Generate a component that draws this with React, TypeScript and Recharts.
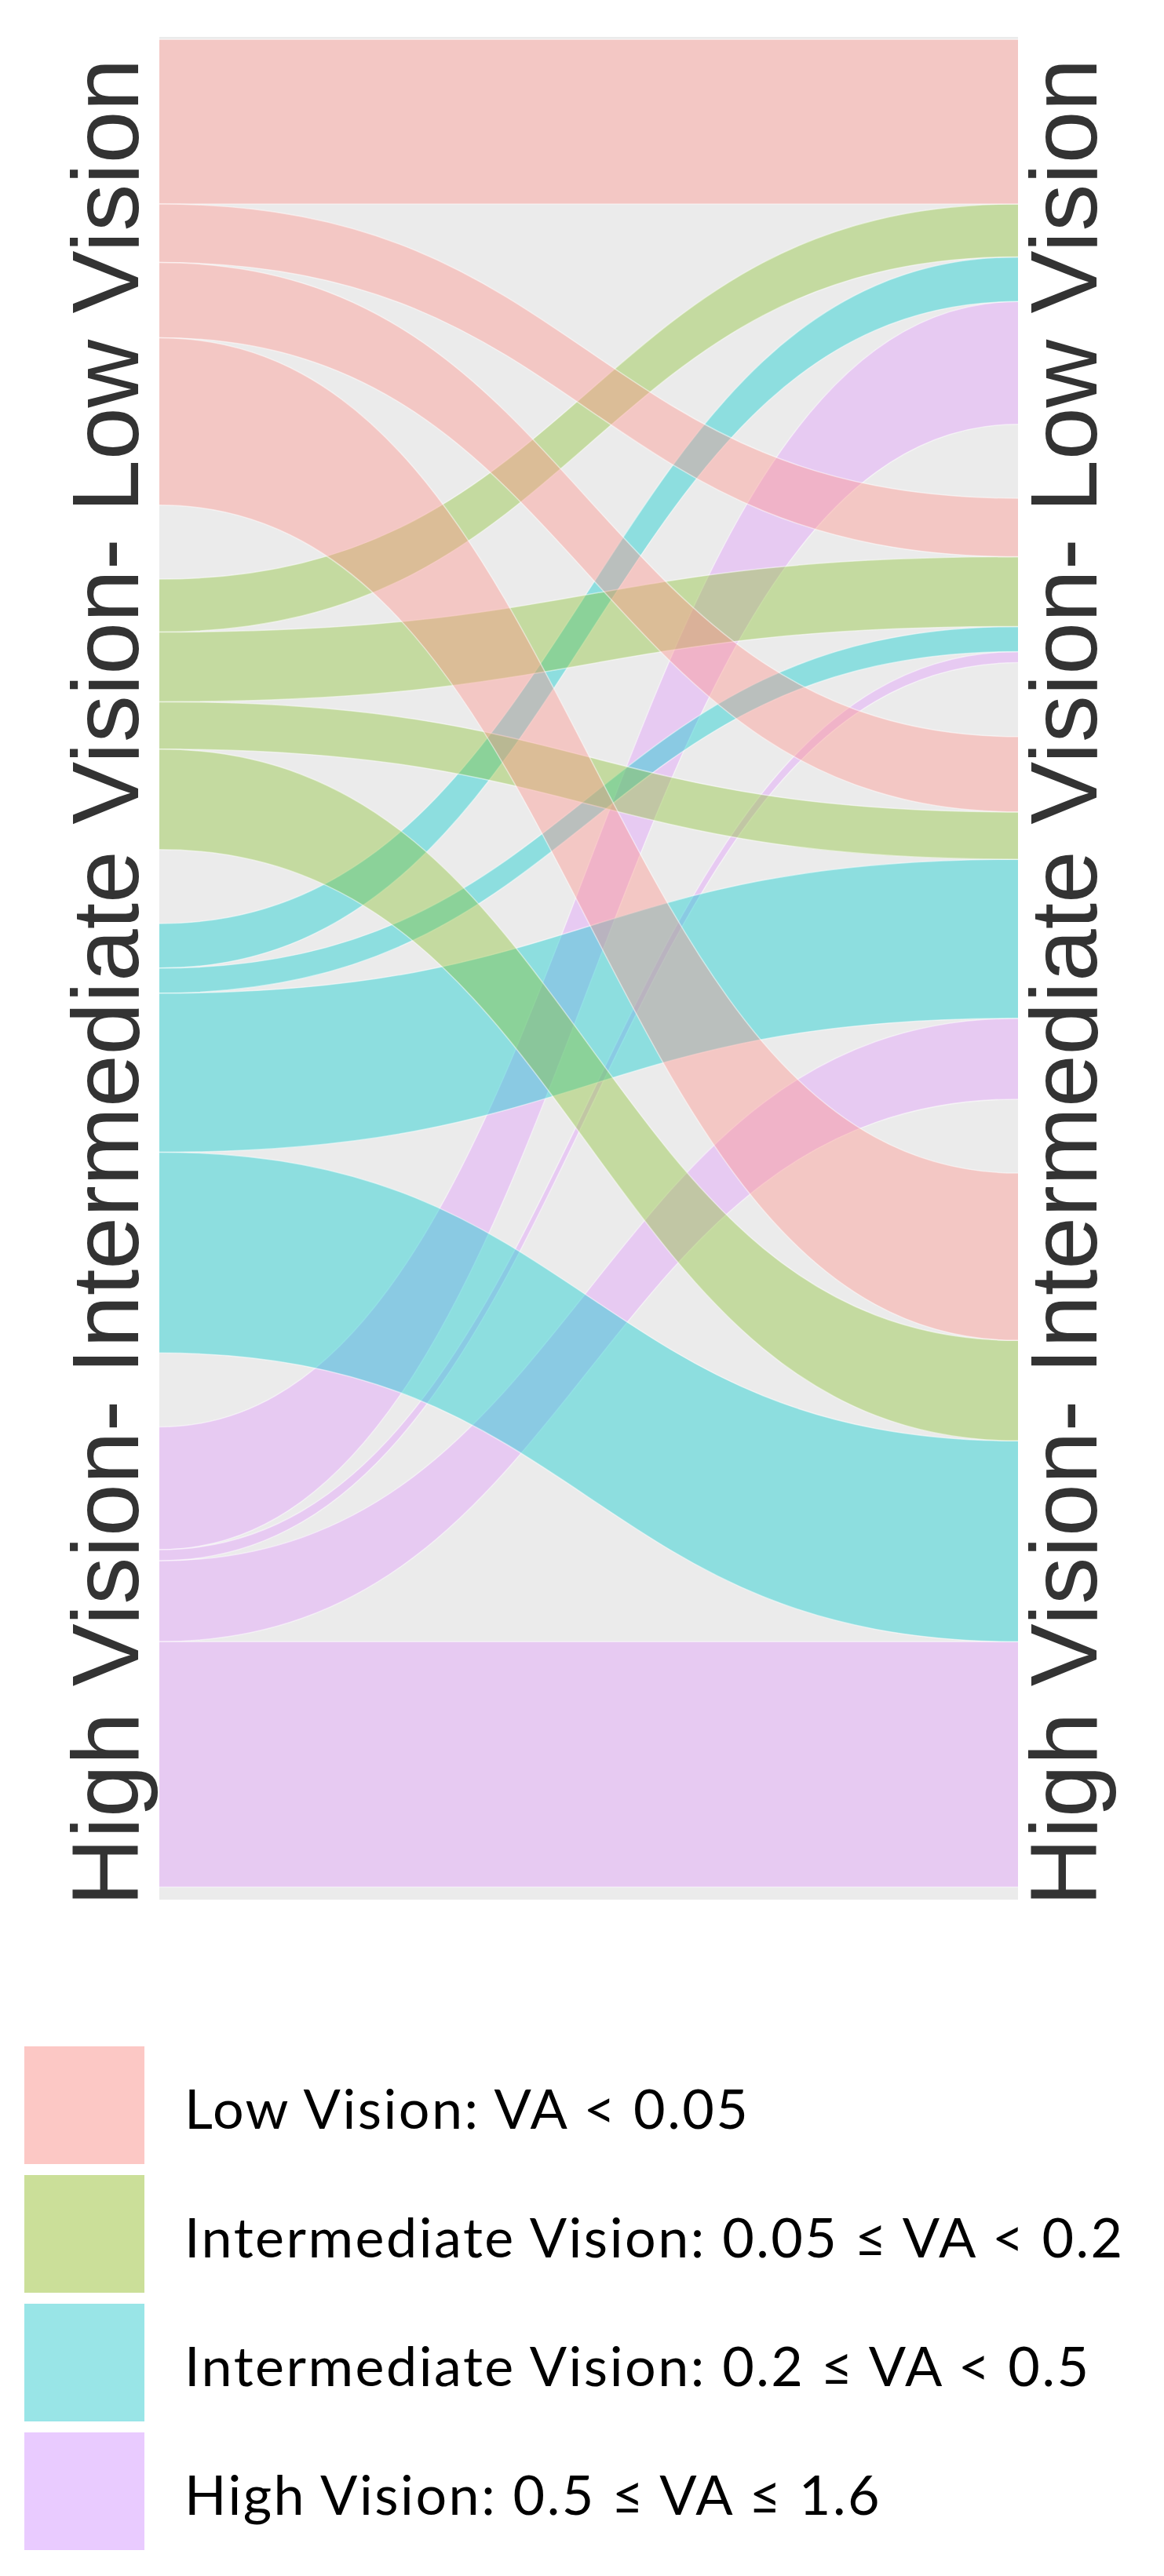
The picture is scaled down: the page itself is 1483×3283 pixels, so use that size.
import { Area, CartesianGrid, ComposedChart, XAxis, YAxis } from 'recharts';

// groups, top to bottom on both sides
const GROUP_LABELS = [
  'Low Vision: VA < 0.05',
  'Intermediate Vision: 0.05 ≤ VA < 0.2',
  'Intermediate Vision: 0.2 ≤ VA < 0.5',
  'High Vision: 0.5 ≤ VA ≤ 1.6',
];
const GROUP_COLORS = ['#F8766D', '#7CAE00', '#00BFC4', '#C77CFF'];
// a little lighter, so the ribbons read like the original over the grey panel
const RIBBON_COLORS = ['#FF9189', '#89C02F', '#00CACD', '#E198FC'];

// flow sizes out of each left group, towards the right groups (same order)
const FROM_LOW = [59, 21, 27, 60];
const FROM_MID_LOW = [19, 25, 17, 36];
const FROM_MID_HIGH = [16, 9, 57, 72];
const FROM_HIGH = [44, 4, 29, 88];

const GAP = 26.5;
const GRID_VALUES = [0, 100, 200, 300, 400, 500, 600];
const AXIS_TEXT = 'High Vision- Intermediate Vision- Low Vision';

const FLOWS = [FROM_LOW, FROM_MID_LOW, FROM_MID_HIGH, FROM_HIGH];

// stack the ribbons on each side, from the top down
function buildRows() {
  const sum = (a: number[]) => a.reduce((s, v) => s + v, 0);
  const total = sum(FLOWS.map(sum)) + GAP * (FLOWS.length - 1);
  const left: Record<string, any> = { x: 0 };
  const right: Record<string, any> = { x: 1 };

  let y = total;
  FLOWS.forEach((row, i) => {
    row.forEach((v, j) => {
      left[`f${i}${j}`] = [y - v, y];
      y -= v;
    });
    y -= GAP;
  });

  y = total;
  FLOWS[0].forEach((_, j) => {
    FLOWS.forEach((row, i) => {
      right[`f${i}${j}`] = [y - row[j], y];
      y -= row[j];
    });
    y -= GAP;
  });
  return [left, right];
}

const rows = buildRows();

function sideText(offset: number) {
  return (props: any) => {
    const { x, y, height } = props.viewBox;
    const cx = x + offset;
    const cy = y + height / 2 + 18;
    return (
      <text
        x={cx}
        y={cy}
        transform={`rotate(-90 ${cx} ${cy})`}
        textAnchor="middle"
        fontFamily="Liberation Sans, Arial, sans-serif"
        fontSize={120}
        fill="#333333"
      >
        {AXIS_TEXT}
      </text>
    );
  };
}

export default function App() {
  // draw the last group first so the pink ribbons end up on top
  const order = FLOWS.map((_, i) => FLOWS.length - 1 - i);

  return (
    <div style={{ width: 1467, fontFamily: 'Lato, sans-serif' }}>
      <ComposedChart
        width={1449}
        height={2445}
        data={rows}
        margin={{ top: 39, right: 0, bottom: 32, left: 0 }}
      >
        <CartesianGrid
          vertical={false}
          fill="#EBEBEB"
          stroke="#FFFFFF"
          strokeWidth={2.5}
          horizontalValues={GRID_VALUES}
          yAxisId="left"
        />
        <XAxis dataKey="x" type="number" domain={[0, 1]} hide />
        <YAxis
          yAxisId="left"
          type="number"
          domain={[-4.5, 663.4]}
          allowDataOverflow
          ticks={GRID_VALUES}
          tick={false}
          tickLine={false}
          axisLine={false}
          width={195}
          label={sideText(168)}
        />
        <YAxis
          yAxisId="right"
          orientation="right"
          type="number"
          domain={[-4.5, 663.4]}
          allowDataOverflow
          tick={false}
          tickLine={false}
          axisLine={false}
          width={160}
          label={sideText(100)}
        />
        {order.map((i) =>
          FLOWS[i].map((_, j) => (
            <Area
              key={`f${i}${j}`}
              yAxisId="left"
              dataKey={`f${i}${j}`}
              type="bumpX"
              fill={RIBBON_COLORS[i]}
              fillOpacity={0.4}
              stroke="#FFFFFF"
              strokeOpacity={0.5}
              strokeWidth={1.5}
              dot={false}
              activeDot={false}
              isAnimationActive={false}
            />
          ))
        )}
      </ComposedChart>

      <div style={{ marginTop: 155 }}>
        {GROUP_LABELS.map((label, i) => (
          <div
            key={label}
            style={{ display: 'flex', alignItems: 'center', height: 150, marginBottom: 14 }}
          >
            <div
              style={{
                width: 153,
                height: 150,
                marginLeft: 23,
                background: GROUP_COLORS[i],
                opacity: 0.4,
              }}
            />
            <div
              style={{
                marginLeft: 51,
                marginTop: 6,
                fontSize: 70,
                letterSpacing: 2.5,
                color: '#000000',
                lineHeight: 1,
                whiteSpace: 'nowrap',
              }}
            >
              {label}
            </div>
          </div>
        ))}
      </div>
    </div>
  );
}
